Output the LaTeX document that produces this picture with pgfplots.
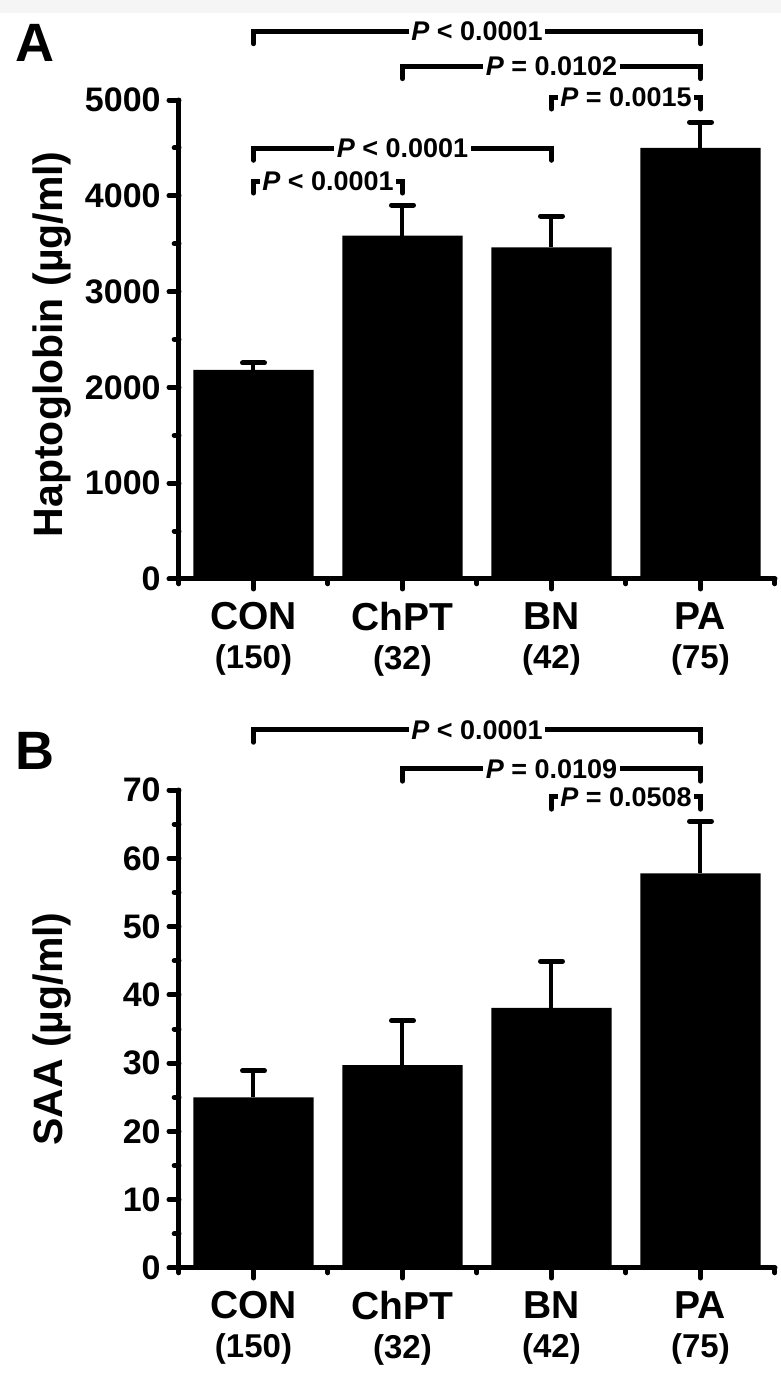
\documentclass[border=0pt]{standalone}
\usepackage{fontspec}
\setmainfont{Liberation Sans}
\usepackage{pgfplots}
\pgfplotsset{compat=1.18}

\newcommand{\pfont}{\fontsize{13.5}{13.5}\selectfont\bfseries}
\newcommand{\bracket}[6]{%
  \draw[line width=2.5pt, line cap=round, line join=miter] (axis cs:#1,#4) -- (axis cs:#1,#3) -- (axis cs:#2,#3) -- (axis cs:#2,#4);
  \node[fill=white, inner xsep=1.2pt, inner ysep=0.5pt, font=\pfont] at (axis cs:#5,#3) {#6};
}

\pgfplotsset{
  myaxis/.style={
    scale only axis, width=298pt, clip=false,
    xmin=-0.5, xmax=3.5, ymin=0,
    axis x line*=bottom, axis y line*=left,
    x axis line style={-}, y axis line style={-},
    axis line style={line width=2.5pt, line cap=round},
    every tick/.style={line width=2.5pt, line cap=round, black},
    tick align=outside,
    major tick length=5pt, minor tick length=2.4pt,
    xtick={0,1,2,3}, minor xtick={-0.5,0.5,1.5,2.5,3.5},
    xticklabels={{CON\\{\fontsize{16.5}{19.5}\selectfont (150)}},
                 {ChPT\\{\fontsize{16.5}{19.5}\selectfont (32)}},
                 {BN\\{\fontsize{16.5}{19.5}\selectfont (42)}},
                 {PA\\{\fontsize{16.5}{19.5}\selectfont (75)}}},
    xticklabel style={align=center, font=\fontsize{19.5}{19.5}\selectfont\bfseries, inner sep=0pt, yshift=-6.5pt},
    yticklabel style={font=\fontsize{17}{17}\selectfont\bfseries, inner sep=0pt, xshift=-4pt,
      /pgf/number format/assume math mode=true, /pgf/number format/1000 sep={}},
  },
  mybar/.style={ybar, bar width=60pt, fill=black, draw=none,
    error bars/.cd, y dir=plus, y explicit,
    error bar style={line width=2pt, black},
    error mark options={rotate=90, mark size=5.5pt, line width=2.5pt, line cap=round, black}},
}

\begin{document}
\begin{tikzpicture}
\path[use as bounding box] (0,0) rectangle (390.5pt,689pt);
\fill[black!4] (0,682.5pt) rectangle (390.5pt,689pt);
\node[anchor=base west, inner sep=0pt, font=\fontsize{27}{27}\selectfont\bfseries] at (7.5pt,658pt) {A};
\node[anchor=base west, inner sep=0pt, font=\fontsize{27}{27}\selectfont\bfseries] at (7.5pt,304pt) {B};

% Panel A
\begin{axis}[myaxis, at={(89.5pt,399.5pt)}, anchor=south west, height=239.5pt,
  ymax=5000, ytick={0,1000,2000,3000,4000,5000},
  minor ytick={500,1500,2500,3500,4500},
  ylabel={Haptoglobin (µg/ml)},
  every axis y label/.style={at={(axis description cs:-0.18,0.49)}, rotate=90, anchor=south, inner sep=0pt, font=\fontsize{20.5}{20.5}\selectfont\bfseries}]
\addplot[mybar] coordinates {(0,2182) +- (0,73) (1,3584) +- (0,320) (2,3462) +- (0,327) (3,4499) +- (0,270)};
\bracket{0}{3}{5713}{5588}{1.5}{\textit{P} < 0.0001}
\bracket{1}{3}{5348}{5223}{2}{\textit{P} = 0.0102}
\bracket{2}{3}{5031}{4906}{2.5}{\textit{P} = 0.0015}
\bracket{0}{2}{4496}{4371}{1}{\textit{P} < 0.0001}
\bracket{0}{1}{4154}{4029}{0.5}{\textit{P} < 0.0001}
\end{axis}

% Panel B
\begin{axis}[myaxis, at={(89.5pt,55pt)}, anchor=south west, height=239pt,
  ymax=70, ytick={0,10,20,30,40,50,60,70},
  minor ytick={5,15,25,35,45,55,65},
  ylabel={SAA (µg/ml)},
  every axis y label/.style={at={(axis description cs:-0.18,0.5)}, rotate=90, anchor=south, inner sep=0pt, font=\fontsize{20.5}{20.5}\selectfont\bfseries}]
\addplot[mybar] coordinates {(0,25.0) +- (0,3.9) (1,29.7) +- (0,6.5) (2,38.1) +- (0,6.8) (3,57.8) +- (0,7.6)};
\bracket{0}{3}{78.8}{77.0}{1.5}{\textit{P} < 0.0001}
\bracket{1}{3}{73.1}{71.3}{2}{\textit{P} = 0.0109}
\bracket{2}{3}{69.0}{67.2}{2.5}{\textit{P} = 0.0508}
\end{axis}
\end{tikzpicture}
\end{document}
